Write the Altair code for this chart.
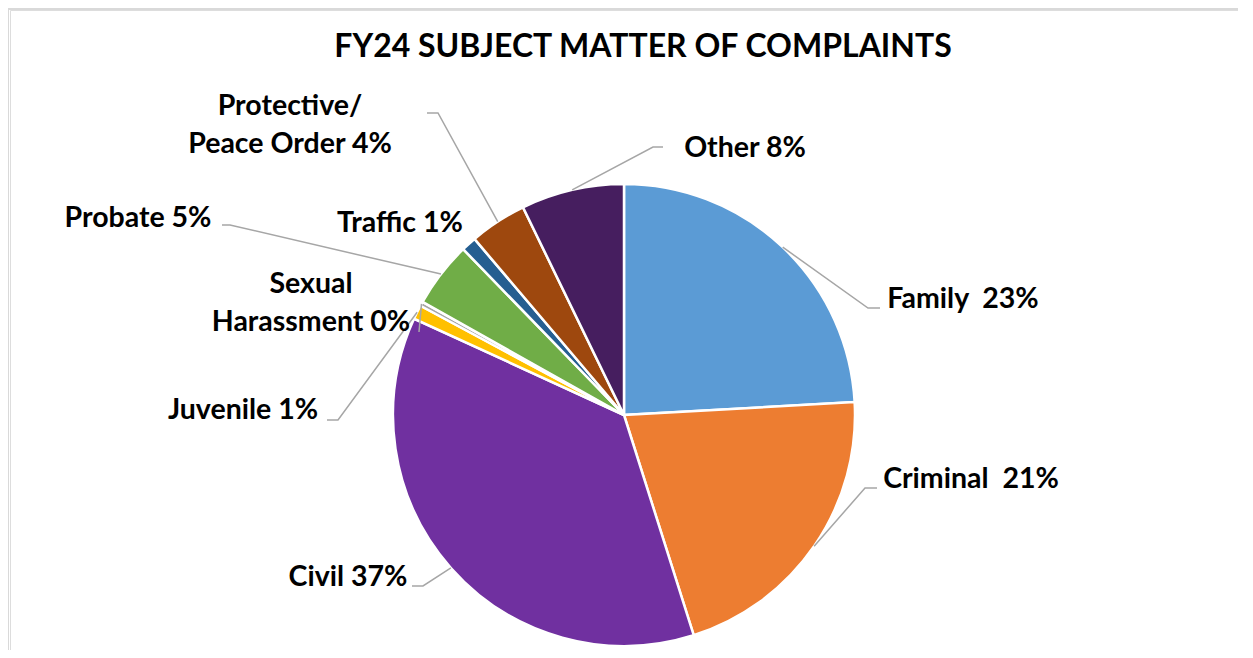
import altair as alt
import pandas as pd
import numpy as np

# ---- data ----
categories = ["Family", "Criminal", "Civil", "Juvenile", "Sexual Harassment",
              "Probate", "Traffic", "Protective/Peace Order", "Other"]
values = [24.1, 21.0, 36.7, 1.0, 0.3, 4.6, 1.05, 4.0, 7.2]
labels = ["Family\u00a0 23%", "Criminal\u00a0 21%", "Civil 37%", "Juvenile 1%",
          "Sexual\nHarassment 0%", "Probate 5%", "Traffic 1%",
          "Protective/\nPeace Order 4%", "Other 8%"]
colors = ["#5B9BD5", "#ED7D31", "#7030A0", "#FFC000", "#A5A5A5",
          "#70AD47", "#255E91", "#9E480E", "#461E5F"]
title_text = "FY24 SUBJECT MATTER OF COMPLAINTS"

# ---- layout (page pixel coordinates) ----
W, H = 1228, 640
OFF = 10
CX, CY, R = 624, 415, 231
label_x = [963, 971, 348, 243, 311, 138, 400, 290, 745]
label_y = [308, 488, 586, 419, 293, 227, 232, 115, 157]
# leader elbow + end points (None = no leader)
leader_elbow = [(868, 308), (865, 488), (423, 586), (338, 420), (419, 332),
                (230, 225), None, (438, 113), (653, 147)]
leader_end = [(880, 308), (877, 488), (412, 586), (327, 420), (419, 332),
              (222, 225), None, (427, 113), (663, 147)]
FONT = "Lato"

# pie data
pie_df = pd.DataFrame({"category": categories, "value": values,
                       "idx": list(range(len(categories)))})

# leader starting points on the slice edge at each slice's mid angle
vals = np.array(values, dtype=float)
frac = vals / vals.sum()
cum = np.cumsum(frac)
mid = (cum - frac / 2) * 2 * np.pi
rows = []
for i, c in enumerate(categories):
    if leader_elbow[i] is None:
        continue
    sx = CX + R * np.sin(mid[i])
    sy = CY - R * np.cos(mid[i])
    pts = [(sx, sy), leader_elbow[i], leader_end[i]]
    for k, (px, py) in enumerate(pts):
        rows.append({"category": c, "k": k, "px": float(px), "py": float(py)})
lead_df = pd.DataFrame(rows)

lab_df = pd.DataFrame({"label": labels, "px": label_x, "py": label_y})
title_df = pd.DataFrame({"label": [title_text], "px": [643], "py": [57]})

xs = alt.Scale(domain=[OFF, OFF + W], range=[0, W], nice=False, zero=False)
ys = alt.Scale(domain=[OFF, OFF + H], range=[0, H], nice=False, zero=False)

pie = alt.Chart(pie_df).mark_arc(radius=R, stroke="white", strokeWidth=2.5).encode(
    theta=alt.Theta("value:Q", stack=True),
    color=alt.Color("category:N", scale=alt.Scale(domain=categories, range=colors), legend=None),
    order=alt.Order("idx:Q"),
    x=alt.value(CX - OFF),
    y=alt.value(CY - OFF),
)

leaders = alt.Chart(lead_df).mark_line(color="#A6A6A6", strokeWidth=1.5).encode(
    x=alt.X("px:Q", scale=xs, axis=None),
    y=alt.Y("py:Q", scale=ys, axis=None),
    detail="category:N",
    order="k:Q",
)

texts = alt.Chart(lab_df).mark_text(
    font=FONT, fontSize=28.5, fontWeight="bold", color="#000000",
    align="center", baseline="alphabetic", lineBreak="\n", lineHeight=38,
).encode(
    x=alt.X("px:Q", scale=xs, axis=None),
    y=alt.Y("py:Q", scale=ys, axis=None),
    text="label:N",
)

title = alt.Chart(title_df).mark_text(
    font=FONT, fontSize=32, fontWeight="bold", color="#000000",
    align="center", baseline="alphabetic",
).encode(
    x=alt.X("px:Q", scale=xs, axis=None),
    y=alt.Y("py:Q", scale=ys, axis=None),
    text="label:N",
)

border = alt.Chart(pd.DataFrame({"a": [0]})).mark_rule(color="#D9D9D9", strokeWidth=2).encode(
    x=alt.value(-2), y=alt.value(-1), y2=alt.value(H + 10)
) + alt.Chart(pd.DataFrame({"a": [0]})).mark_rule(color="#D9D9D9", strokeWidth=2).encode(
    x=alt.value(-2), x2=alt.value(W + 10), y=alt.value(-1)
)

chart = alt.layer(border, pie, leaders, texts, title).properties(
    width=W, height=H,
    autosize=alt.AutoSizeParams(type="none"),
    padding={"left": 2, "top": 2, "right": 0, "bottom": 0},
).configure_view(stroke=None).configure(background="white")

chart.save("out.html", embed_options={"renderer": "svg", "actions": False})
